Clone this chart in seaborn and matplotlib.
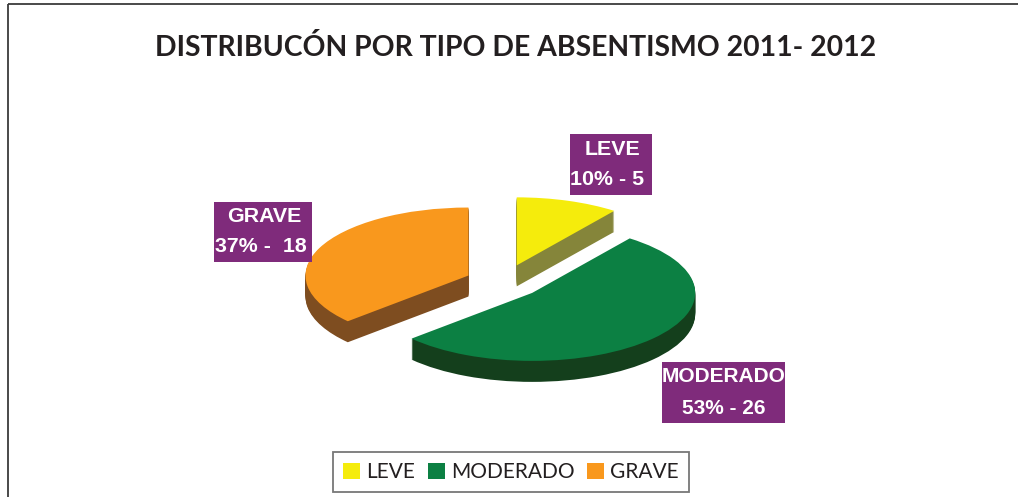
import matplotlib
matplotlib.use("Agg")
import matplotlib.pyplot as plt
from matplotlib.patches import Rectangle
import seaborn as sns

categories = ["LEVE", "MODERADO", "GRAVE"]
counts = [5, 26, 18]
label_values = ["10% - 5", "53% - 26", "37% -  18"]
explode = [0.258, 0.238, 0.235]
top_colors = ["#f5ec0c", "#0c8043", "#f9981d"]
wall_colors = ["#85853a", "#143f1c", "#7e4d20"]
title = "DISTRIBUCÓN POR TIPO DE ABSENTISMO 2011- 2012"

sns.set_theme(style="white")
plt.rcParams["font.family"] = ["Lato", "DejaVu Sans"]

W, H = 1018, 497
fig = plt.figure(figsize=(W / 100, H / 100), dpi=100, facecolor="white")

# Pie axes: one data unit is the pie radius, squashed by the axis limits
RX, RY, CX, CY, DEPTH = 163.0, 68.0, 503.5, 282.0, 21
ax = fig.add_axes([0, 0, 1, 1])
pie_kw = dict(explode=explode, startangle=90, counterclock=False, radius=1)
for d in range(DEPTH, 0, -1):
    ax.pie(counts, colors=wall_colors, center=(0, -d / RY),
           wedgeprops=dict(linewidth=0.6, edgecolor="none"), **pie_kw)
wedges, _ = ax.pie(counts, colors=top_colors, center=(0, 0),
                   wedgeprops=dict(linewidth=0), **pie_kw)
ax.set_aspect("auto")
ax.set_xlim(-CX / RX, (W - CX) / RX)
ax.set_ylim((CY - H) / RY, CY / RY)
ax.axis("off")

# Overlay in pixel coordinates for frame, labels, title, legend
ov = fig.add_axes([0, 0, 1, 1], facecolor="none")
ov.set_xlim(0, W)
ov.set_ylim(H, 0)
ov.axis("off")
ov.add_patch(Rectangle((8, 4), W + 20, H + 20, fill=False, ec="#3a3a3a", lw=1.3))

ov.text(515.5, 48, title, ha="center", va="center", fontsize=20.45,
        fontweight="bold", color="#231f20")

boxes = [(570, 134, 82, 61), (662, 362, 123, 61), (214, 202, 98, 60)]
line1_pos = [(612.5, 147.5), (723.7, 375), (264, 215)]
line2_pos = [(607, 177.5), (723.7, 406), (260.5, 245)]
sizes = [15.4, 15.0, 15.4]
for cat, val, b, p1, p2, fs in zip(categories, label_values, boxes, line1_pos, line2_pos, sizes):
    ov.add_patch(Rectangle(b[:2], b[2], b[3], fc="#7f2b7b", ec="none", zorder=3))
    for s, p in ((cat, p1), (val, p2)):
        ov.text(p[0], p[1], s, ha="center", va="center_baseline", color="white",
                fontsize=fs, fontweight="bold", family="Liberation Sans", zorder=4)

leg = ov.legend(wedges, categories, loc="center", bbox_to_anchor=(511, 472),
                bbox_transform=ov.transData, ncol=3, fontsize=15, frameon=True,
                fancybox=False, edgecolor="#777777", framealpha=1,
                handlelength=0.816, handleheight=0.816, handletextpad=0.29,
                columnspacing=0.62, borderpad=0.48, borderaxespad=0)
leg.get_frame().set_linewidth(1.3)
for t in leg.get_texts():
    t.set_color("#231f20")

fig.savefig("out.png", dpi=100, facecolor="white")
